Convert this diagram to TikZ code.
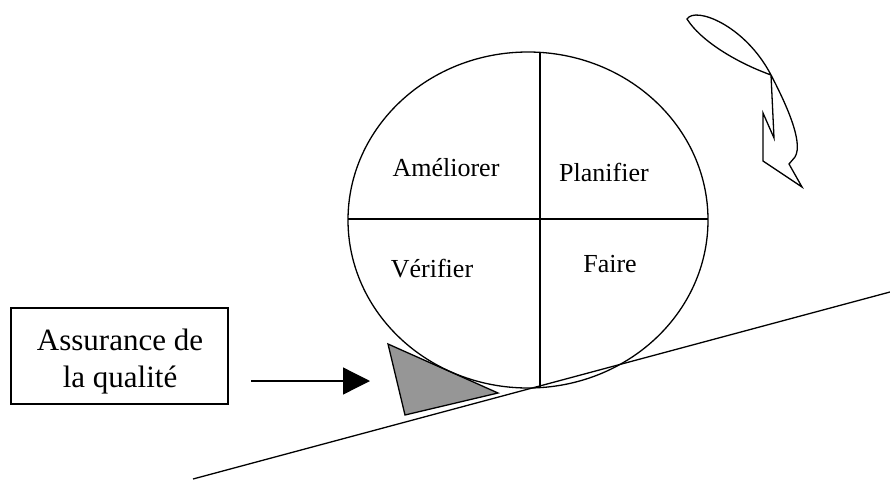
\documentclass[tikz,border=0pt]{standalone}
\usepackage{fontspec}
\setmainfont{Liberation Serif}
\usetikzlibrary{arrows.meta}
\tikzset{
  ln/.style={line width=1.3pt, line join=miter},
  lbl/.style={inner sep=0pt, anchor=base, font=\fontsize{26}{30}\selectfont},
  boxlbl/.style={inner sep=0pt, anchor=base, font=\fontsize{31}{37}\selectfont},
}
\begin{document}
\begin{tikzpicture}[x=1pt,y=-1pt]
\useasboundingbox (0,0) rectangle (890,479);
% wedge
\coordinate (t1) at (388,344);
\coordinate (t2) at (405,415);
\coordinate (t3) at (498,393);
\draw[ln, fill={rgb,255:red,150;green,150;blue,150}] (t1) -- (t2) -- (t3) -- cycle;
% wheel
\coordinate (wc) at (528,220);
\draw[ln] (wc) ellipse [x radius=180pt, y radius=168pt];
\coordinate (hl) at (348,219);
\coordinate (hr) at (708,219);
\coordinate (vt) at (540,52);
\coordinate (vb) at (540,387);
\draw[ln] (hl) -- (hr);
\draw[ln] (vt) -- (vb);
\node[lbl] (ameliorer) at (446,176) {Améliorer};
\node[lbl] (planifier) at (604,181) {Planifier};
\node[lbl] (verifier) at (432,277) {Vérifier};
\node[lbl] (faire) at (610,272) {Faire};
% slope
\coordinate (sl1) at (193,479);
\coordinate (sl2) at (890,292);
\draw[ln] (sl1) -- (sl2);
% box
\node[draw, line width=1.3pt, minimum width=217pt, minimum height=96pt, inner sep=0pt] (box) at (119.5,356) {};
\node[boxlbl] (l1) at (120,350) {Assurance de};
\node[boxlbl] (l2) at (120,387) {la qualité};
% arrow
\coordinate (aS) at (251,381);
\coordinate (aE) at (370,381);
\draw[ln, -{Triangle[length=27pt,width=27pt]}] (aS) -- (aE);
% rotation arrow
\coordinate (rc) at (771,75);
\draw[ln] (rc) .. controls (735,62) and (700,40) .. (687,19)
  .. controls (695,6) and (745,25) .. (rc)
  .. controls (785,102) and (804,142) .. (795,157)
  -- (789,164) -- (802,187) -- (763,161) -- (763,113) -- (774,138) -- cycle;
\end{tikzpicture}
\end{document}
